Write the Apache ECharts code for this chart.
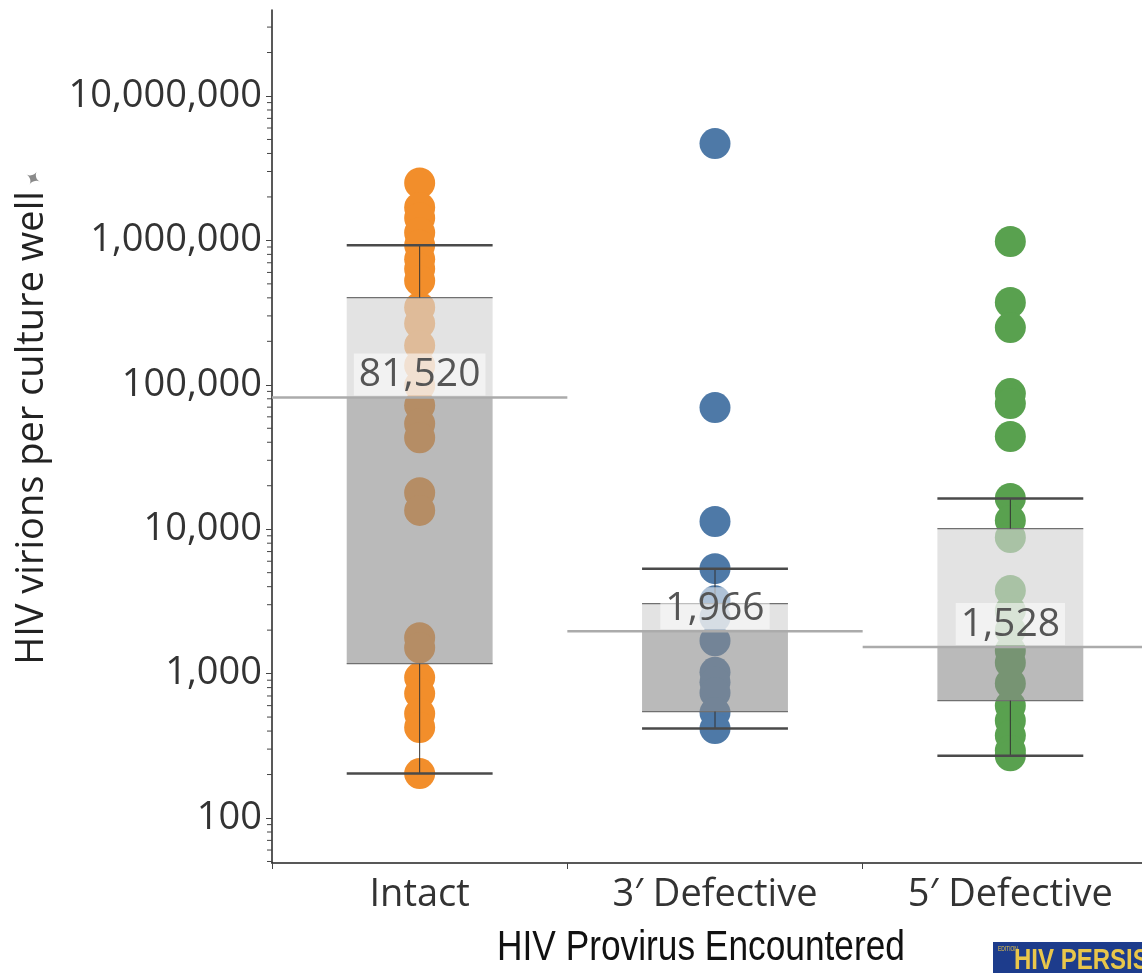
<!DOCTYPE html>
<html>
<head>
<meta charset="utf-8">
<script src="https://cdn.jsdelivr.net/npm/echarts@6/dist/echarts.min.js"></script>
<style>
    html, body { margin: 0; padding: 0; background: #ffffff; }
    #chart { width: 1142px; height: 973px; }
</style>
</head>
<body>
<div id="chart"></div>
<script>
    // categories on the x axis
    var categories = ['Intact', '3\u2032 Defective', '5\u2032 Defective'];

    // virions per culture well
    var intactValues = [2500000, 1690000, 1430000, 1130000, 925000, 740000, 635000, 525000,
        343000, 266000, 187000, 136000, 98700, 71800, 53800, 43000,
        17900, 13500,
        1770, 1510, 938, 727, 528, 423, 203];
    var defective3Values = [4680000, 69500, 11300, 5330, 3200, 2450, 1690, 1020, 870, 738, 537, 416];
    var defective5Values = [982000, 371000, 249000, 86900, 74100, 43800, 16300, 11500, 8750,
        3760, 2730, 1990, 1440, 1190, 853, 600, 472, 372, 293, 270];

    // box stats per category: [min, q1, median, q3, max]
    var boxStats = [
        [203, 1172, 81520, 402000, 925000],
        [416, 546, 1966, 3050, 5330],
        [270, 650, 1528, 10100, 16300]
    ];

    var dotColors = ['#F28E2B', '#4E79A7', '#59A14F'];

    // log axis decades (minor ticks between them)
    var decades = [10, 100, 1000, 10000, 100000, 1000000, 10000000];
    var yMin = 48.8;
    var yMax = 39400000;

    var minorTickData = [];
    decades.forEach(function (d) {
        for (var k = 2; k <= 9; k++) {
            var v = k * d;
            if (v > yMin && v < yMax) minorTickData.push([0, v]);
        }
    });

    function fmt(v) {
        return Math.round(v).toLocaleString('en-US');
    }

    function renderBox(params, api) {
        var cat = api.value(0);
        var pMin = api.coord([cat, api.value(1)]);
        var pQ1 = api.coord([cat, api.value(2)]);
        var pMed = api.coord([cat, api.value(3)]);
        var pQ3 = api.coord([cat, api.value(4)]);
        var pMax = api.coord([cat, api.value(5)]);
        var band = api.size([1, 0])[0];
        var half = band * 0.247;
        var cx = pMed[0];
        var x0 = cx - half, x1 = cx + half;
        return {
            type: 'group',
            children: [
                // upper part of box (q3 -> median)
                { type: 'rect', shape: { x: x0, y: pQ3[1], width: 2 * half, height: pMed[1] - pQ3[1] },
                  style: { fill: 'rgba(212,212,212,0.65)' } },
                // lower part of box (median -> q1)
                { type: 'rect', shape: { x: x0, y: pMed[1], width: 2 * half, height: pQ1[1] - pMed[1] },
                  style: { fill: 'rgba(140,140,140,0.6)' } },
                { type: 'line', shape: { x1: x0, y1: pQ3[1], x2: x1, y2: pQ3[1] }, style: { stroke: '#707070', lineWidth: 1.3 } },
                { type: 'line', shape: { x1: x0, y1: pQ1[1], x2: x1, y2: pQ1[1] }, style: { stroke: '#707070', lineWidth: 1.3 } },
                // whiskers
                { type: 'line', shape: { x1: cx, y1: pQ3[1], x2: cx, y2: pMax[1] }, style: { stroke: '#333', lineWidth: 1 } },
                { type: 'line', shape: { x1: cx, y1: pQ1[1], x2: cx, y2: pMin[1] }, style: { stroke: '#333', lineWidth: 1 } },
                { type: 'line', shape: { x1: x0, y1: pMax[1], x2: x1, y2: pMax[1] }, style: { stroke: '#4a4a4a', lineWidth: 2.5 } },
                { type: 'line', shape: { x1: x0, y1: pMin[1], x2: x1, y2: pMin[1] }, style: { stroke: '#4a4a4a', lineWidth: 2.5 } },
                // median reference line across the whole band
                { type: 'line', shape: { x1: cx - band / 2, y1: pMed[1], x2: cx + band / 2, y2: pMed[1] },
                  style: { stroke: '#ababab', lineWidth: 2.5 } },
                { type: 'text', x: cx, y: pMed[1] - 2,
                  style: {
                      text: fmt(api.value(3)),
                      align: 'center', verticalAlign: 'bottom',
                      textAlign: 'center', textVerticalAlign: 'bottom',
                      fontSize: 39, fontFamily: 'Open Sans', fill: '#555555',
                      backgroundColor: 'rgba(255,255,255,0.55)',
                      padding: [2, 5, 1, 5]
                  } }
            ]
        };
    }

    function renderMinorTick(params, api) {
        var y = api.coord([0, api.value(1)])[1];
        var ax = params.coordSys.x;
        return {
            type: 'line',
            shape: { x1: ax - 5, y1: y, x2: ax, y2: y },
            style: { stroke: '#444', lineWidth: 1 }
        };
    }

    var scatterSeries = [intactValues, defective3Values, defective5Values].map(function (vals, i) {
        return {
            type: 'scatter',
            name: categories[i],
            symbol: 'circle',
            symbolSize: 31,
            itemStyle: { color: dotColors[i], opacity: 1 },
            z: 2,
            data: vals.map(function (v) { return [i, v]; })
        };
    });

    var boxData = boxStats.map(function (s, i) { return [i].concat(s); });

    var chart = echarts.init(document.getElementById('chart'));
    chart.setOption({
        animation: false,
        backgroundColor: '#ffffff',
        grid: { left: 272, top: 10, width: 886, height: 853, outerBoundsMode: 'none', containLabel: false },
        xAxis: {
            type: 'category',
            data: categories,
            axisLine: { lineStyle: { color: '#222', width: 1.5 } },
            axisTick: { show: true, length: 6, lineStyle: { color: '#444' } },
            axisLabel: { fontSize: 38, color: '#333', margin: 13, fontFamily: 'Open Sans' },
            splitLine: { show: false }
        },
        yAxis: {
            type: 'log',
            logBase: 10,
            min: yMin,
            max: yMax,
            axisLine: { show: true, lineStyle: { color: '#222', width: 1.5 } },
            axisTick: { show: true, length: 6, lineStyle: { color: '#444' } },
            axisLabel: {
                fontSize: 38, color: '#333', margin: 10, fontFamily: 'Open Sans',
                showMinLabel: false, showMaxLabel: false,
                formatter: function (v) { return fmt(v); }
            },
            splitLine: { show: false },
            minorTick: { show: false }
        },
        graphic: [
            { type: 'text', x: 32, y: 428, rotation: Math.PI / 2,
              style: { text: 'HIV virions per culture well', x: 0, y: 0,
                       align: 'center', verticalAlign: 'middle',
                       textAlign: 'center', textVerticalAlign: 'middle',
                       fontSize: 38, fontFamily: 'Open Sans', fill: '#222' } },
            { type: 'text', x: 32, y: 180, rotation: -0.5,
              style: { text: '\u2726', x: 0, y: 0,
                       align: 'center', verticalAlign: 'middle',
                       textAlign: 'center', textVerticalAlign: 'middle',
                       fontSize: 20, fontFamily: 'DejaVu Sans', fill: '#8a8a8a' } },
            { type: 'text', x: 701, y: 948, scaleX: 0.84,
              style: { text: 'HIV Provirus Encountered', x: 0, y: 0,
                       align: 'center', verticalAlign: 'middle',
                       textAlign: 'center', textVerticalAlign: 'middle',
                       fontSize: 42, fontFamily: 'Liberation Sans', fill: '#111' } },
            { type: 'rect', shape: { x: 993, y: 942, width: 160, height: 40 }, style: { fill: '#1d3c8c' } },
            { type: 'text', x: 1014, y: 961, scaleX: 0.8,
              style: { text: 'HIV PERSIST', x: 0, y: 0, verticalAlign: 'middle', textVerticalAlign: 'middle',
                       fontSize: 30, fontWeight: 'bold', fontFamily: 'Liberation Sans', fill: '#e9c64a' } },
            { type: 'text', x: 998, y: 946, scaleX: 0.7,
              style: { text: 'EDITION', x: 0, y: 0, fontSize: 7, fontFamily: 'Liberation Sans', fill: '#e9c64a' } }
        ],
        series: scatterSeries.concat([
            {
                type: 'custom',
                name: 'box',
                renderItem: renderBox,
                z: 3,
                clip: false,
                data: boxData
            },
            {
                type: 'custom',
                name: 'minorTicks',
                renderItem: renderMinorTick,
                z: 4,
                clip: false,
                silent: true,
                data: minorTickData
            }
        ])
    });
</script>
</body>
</html>
